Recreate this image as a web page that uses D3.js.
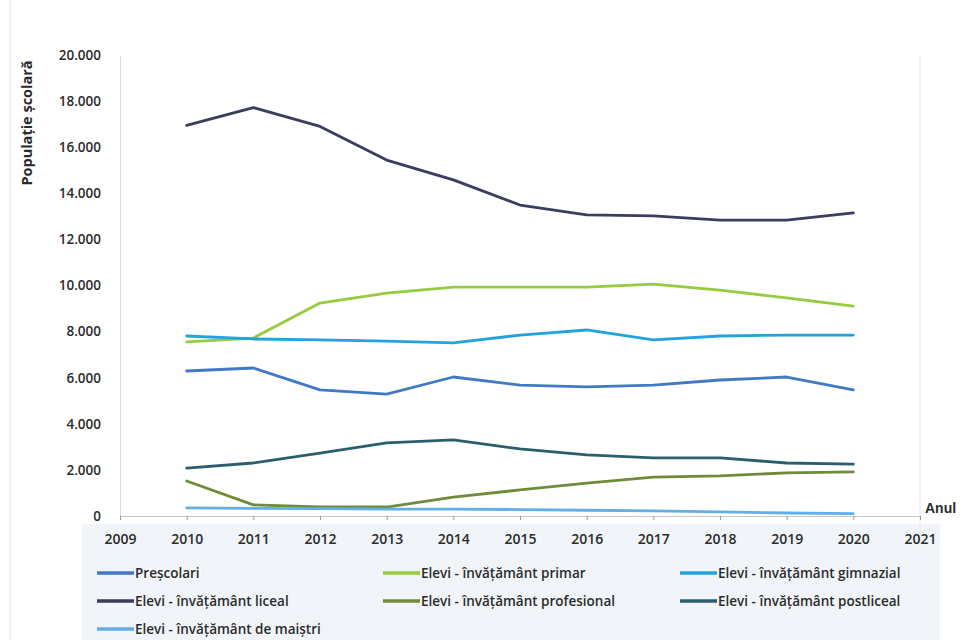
<!DOCTYPE html>
<html>
<head>
<meta charset="utf-8">
<script src="https://cdn.jsdelivr.net/npm/d3@7"></script>
<style>
  body { margin: 0; background: #fff; }
  text { font-family: "Open Sans", "Liberation Sans", sans-serif; fill: #2b2b2b; }
</style>
</head>
<body>
<div id="chart"></div>
<script>
var years = [2010, 2011, 2012, 2013, 2014, 2015, 2016, 2017, 2018, 2019, 2020];
var xTicks = [2009, 2010, 2011, 2012, 2013, 2014, 2015, 2016, 2017, 2018, 2019, 2020, 2021];
var yTicks = [0, 2000, 4000, 6000, 8000, 10000, 12000, 14000, 16000, 18000, 20000];

var seriesNames = [
  "Preșcolari",
  "Elevi - învățământ primar",
  "Elevi - învățământ gimnazial",
  "Elevi - învățământ liceal",
  "Elevi - învățământ profesional",
  "Elevi - învățământ postliceal",
  "Elevi - învățământ de maiștri"
];
var seriesColors = ["#4179c4", "#96cc3e", "#22a3dc", "#3a3d5e", "#6e8c3a", "#2b5e6c", "#62aee6"];

var prescolari  = [6290, 6420, 5470, 5290, 6030, 5680, 5600, 5680, 5900, 6030, 5470];
var primar      = [7550, 7720, 9240, 9670, 9930, 9930, 9930, 10060, 9800, 9460, 9110];
var gimnazial   = [7810, 7680, 7640, 7590, 7510, 7850, 8070, 7640, 7810, 7850, 7850];
var liceal      = [16950, 17720, 16900, 15440, 14580, 13490, 13060, 13020, 12840, 12840, 13150];
var profesional = [1520, 480, 390, 390, 820, 1130, 1430, 1690, 1740, 1870, 1910];
var postliceal  = [2080, 2300, 2730, 3170, 3300, 2910, 2650, 2520, 2520, 2300, 2250];
var maistri     = [350, 330, 320, 300, 300, 280, 250, 220, 180, 130, 100];

var allSeries = [prescolari, primar, gimnazial, liceal, profesional, postliceal, maistri];

var svgWidth = 960;
var svgHeight = 640;

var svg = d3.select("#chart")
  .append("svg")
  .attr("width", svgWidth)
  .attr("height", svgHeight);

// light band behind the axis labels and legend (scan look)
svg.append("rect")
  .attr("x", 82).attr("y", 524)
  .attr("width", 858).attr("height", 116)
  .attr("fill", "#f1f5f9");

var x = d3.scaleLinear().domain([2009, 2021]).range([120, 920]);
var y = d3.scaleLinear().domain([0, 20000]).range([516, 55]);

// outer frame line on the left
svg.append("line")
  .attr("x1", 10).attr("x2", 10).attr("y1", 0).attr("y2", 640)
  .attr("stroke", "#e4e4e4").attr("stroke-width", 1);

// y axis
var yAxis = svg.append("g")
  .attr("transform", "translate(120,0)")
  .call(d3.axisLeft(y).tickValues(yTicks).tickSize(0).tickPadding(19)
    .tickFormat(function(d) { return d === 0 ? "0" : d3.format(",")(d).replace(/,/g, "."); }));
yAxis.select(".domain").attr("stroke", "#dcdcdc");
yAxis.selectAll("text")
  .attr("font-size", "13.5px")
  .attr("font-weight", "600")
  .attr("fill", "#2b2b2b")
  .style("font-family", "'Open Sans', sans-serif");

// right border line at 2021
svg.append("line")
  .attr("x1", x(2021)).attr("x2", x(2021)).attr("y1", 55).attr("y2", 545)
  .attr("stroke", "#e6e6e6");

// x axis
var xAxis = svg.append("g")
  .attr("transform", "translate(0,516)")
  .call(d3.axisBottom(x).tickValues(xTicks).tickSize(4).tickPadding(14).tickFormat(d3.format("d")));
xAxis.select(".domain").attr("stroke", "#c8c8c8");
xAxis.selectAll(".tick line").attr("stroke", "#999");
xAxis.selectAll("text")
  .attr("font-size", "14px")
  .attr("font-weight", "600")
  .attr("fill", "#2b2b2b")
  .style("font-family", "'Open Sans', sans-serif");

// lines
var line = d3.line()
  .x(function(d, i) { return x(years[i]); })
  .y(function(d) { return y(d); });

svg.append("g").selectAll("path")
  .data(allSeries)
  .enter()
  .append("path")
  .attr("d", function(d) { return line(d); })
  .attr("fill", "none")
  .attr("stroke", function(d, i) { return seriesColors[i]; })
  .attr("stroke-width", 2.8)
  .attr("stroke-linejoin", "round")
  .attr("stroke-linecap", "round");

// axis titles
svg.append("text")
  .attr("transform", "translate(32,123) rotate(-90)")
  .attr("text-anchor", "middle")
  .attr("font-size", "14.5px")
  .attr("font-weight", "bold")
  .text("Populație școlară");

svg.append("text")
  .attr("x", 925).attr("y", 513)
  .attr("font-size", "14px")
  .attr("font-weight", "bold")
  .style("font-family", "'Liberation Sans', Arial, sans-serif")
  .text("Anul");

// legend: 3 columns
var legendCols = [97, 383, 680];
var legendRows = [573, 601, 629];
var legend = svg.append("g").selectAll("g")
  .data(seriesNames)
  .enter()
  .append("g")
  .attr("transform", function(d, i) {
    return "translate(" + legendCols[i % 3] + "," + legendRows[Math.floor(i / 3)] + ")";
  });

legend.append("line")
  .attr("x1", 0).attr("x2", 37)
  .attr("stroke", function(d, i) { return seriesColors[i]; })
  .attr("stroke-width", 3.5);

legend.append("text")
  .attr("x", 38).attr("dy", "0.35em")
  .attr("font-size", "13.5px")
  .attr("font-weight", "600")
  .text(function(d) { return d; });
</script>
</body>
</html>
